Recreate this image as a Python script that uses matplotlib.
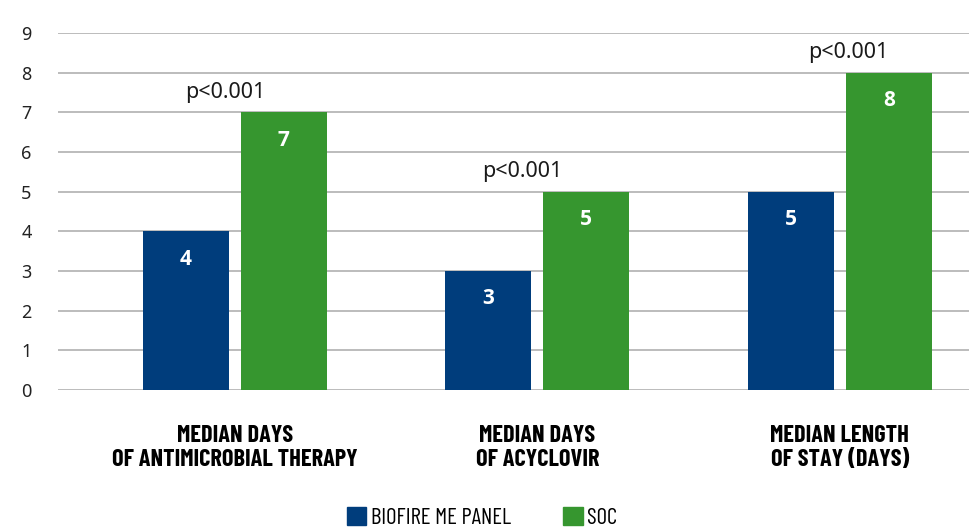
import matplotlib.pyplot as plt
import numpy as np
from matplotlib.patches import Patch

categories = ["MEDIAN DAYS\nOF ANTIMICROBIAL THERAPY",
              "MEDIAN DAYS\nOF ACYCLOVIR",
              "MEDIAN LENGTH\nOF STAY (DAYS)"]
biofire = [4, 3, 5]
soc = [7, 5, 8]
p_values = ["p<0.001", "p<0.001", "p<0.001"]
series_names = ["BIOFIRE ME PANEL", "SOC"]

BLUE = "#003d7c"
GREEN = "#36962f"
COND = ["Barlow Condensed", "Roboto Condensed", "DejaVu Sans"]
BOLD = ["Open Sans", "DejaVu Sans"]

plt.rcParams['font.family'] = ["Noto Sans", "DejaVu Sans"]

fig = plt.figure(figsize=(9.7, 5.28), dpi=100)
ax = fig.add_axes([58 / 970, 1 - 390 / 528, 1 - 58 / 970, (390 - 33) / 528])

x = np.arange(len(categories))
w = 0.285
off = 0.162
b1 = ax.bar(x - off, biofire, w, color=BLUE, zorder=3)
b2 = ax.bar(x + off, soc, w, color=GREEN, zorder=3)

# value labels inside the bars
for bars, vals in ((b1, biofire), (b2, soc)):
    for r, v in zip(bars, vals):
        ax.text(r.get_x() + r.get_width() / 2, v - 0.7, str(v), ha='center', va='center',
                color='white', fontsize=15, fontweight='bold', family=BOLD)

p_shift = [-0.03, -0.05, 0.027]
for i, p in enumerate(p_values):
    top = max(biofire[i], soc[i])
    ax.text(x[i] + p_shift[i], top + 0.5, p, ha='center', va='center', fontsize=15.5, color='#1a1a1a')

ax.set_ylim(0, 9)
ax.set_xlim(-0.584, 2.43)
ax.set_yticks(range(10))
ax.set_yticklabels([str(i) for i in range(10)], fontsize=13, color='#222222')
ax.tick_params(axis='y', length=0, pad=19)
ax.yaxis.grid(True, color='#b0b0b0', linewidth=1.2, zorder=0)
ax.set_axisbelow(True)
ax.set_xticks(x)
ax.set_xticklabels(categories, family=COND, fontweight='bold', fontsize=17.5, linespacing=1.16)
ax.tick_params(axis='x', length=0, pad=25)
for s in ax.spines.values():
    s.set_visible(False)

handles = [Patch(color=BLUE), Patch(color=GREEN)]
fig.legend(handles, series_names, loc='center', bbox_to_anchor=(0.497, 1 - 518 / 528),
           ncol=2, frameon=False, prop={'family': COND, 'size': 16.5},
           handlelength=0.85, handleheight=0.85, handletextpad=0.2, columnspacing=2.3)

fig.savefig("out.png", dpi=100)
